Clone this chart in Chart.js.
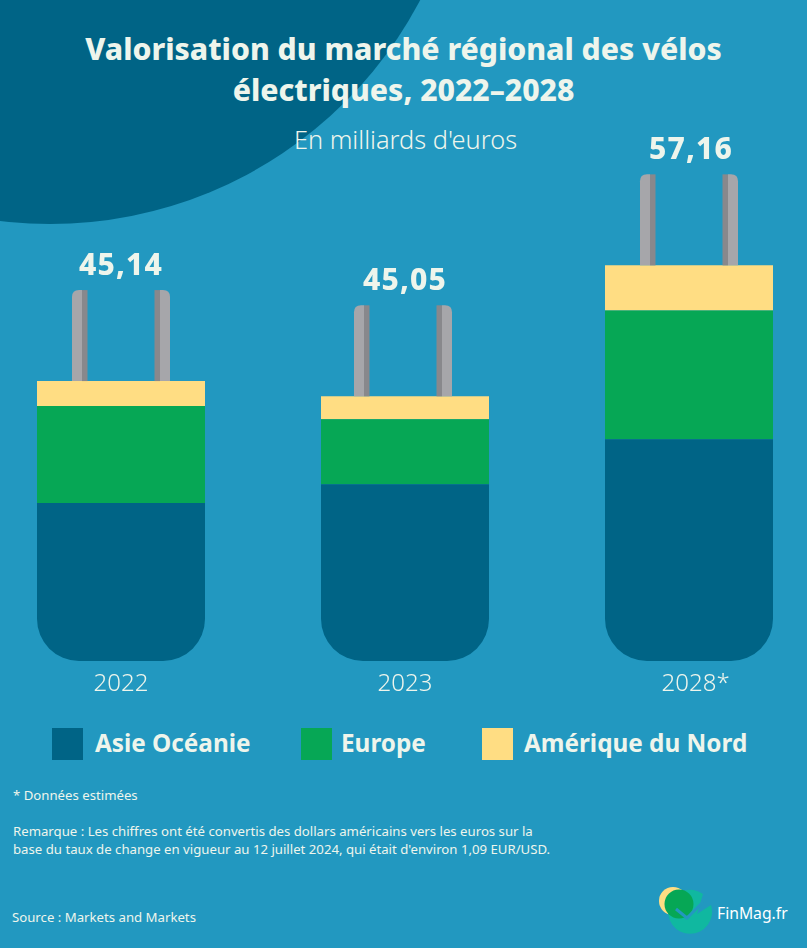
<!DOCTYPE html>
<html lang="fr">
<head>
<meta charset="utf-8">
<title>Vélos électriques</title>
<script src="https://cdn.jsdelivr.net/npm/chart.js@4"></script>
<style>
    html, body { margin: 0; padding: 0; }
    body { position: relative; width: 807px; height: 948px; overflow: hidden; background: #2298c0; color: #eef5ec; font-family: "Noto Sans", sans-serif; }
    .txt { position: absolute; white-space: nowrap; }
    #cercle { position: absolute; left: -368px; top: -612px; width: 836px; height: 836px; border-radius: 50%; background: #006486; }
    #canvas-wrap { position: absolute; left: -21px; top: 0; width: 852px; height: 700px; }
    #titre { left: 0; width: 807px; top: 28px; text-align: center; font-size: 30.1px; line-height: 41px; font-weight: 800; }
    #sous-titre { left: 0; width: 811px; top: 122px; text-align: center; font-size: 25.4px; line-height: 34px; font-weight: 300; }
    .swatch { position: absolute; top: 728px; width: 31px; height: 32px; }
    .leg { top: 726px; font-size: 24.3px; line-height: 34px; font-weight: 700; }
    .note { font-size: 13.2px; line-height: 18px; }
    #logo { position: absolute; left: 655px; top: 880px; }
    #logo-txt { left: 717px; top: 900px; font-size: 15.7px; line-height: 26px; color: #fff; }
</style>
</head>
<body>
<div id="cercle"></div>
<div class="txt" id="titre">Valorisation du marché régional des vélos<br>électriques, 2022–2028</div>
<div class="txt" id="sous-titre">En milliards d'euros</div>
<div id="canvas-wrap"><canvas id="graph" width="852" height="700"></canvas></div>
<div id="legende"></div>
<div class="txt note" style="left:13px;top:786px">* Données estimées</div>
<div class="txt note" style="left:13px;top:822px">Remarque : Les chiffres ont été convertis des dollars américains vers les euros sur la<br>base du taux de change en vigueur au 12 juillet 2024, qui était d'environ 1,09 EUR/USD.</div>
<div class="txt note" style="left:12px;top:908px">Source : Markets and Markets</div>
<svg id="logo" width="62" height="60" viewBox="655 880 62 60">
    <circle cx="673" cy="901" r="14" fill="#ffdd83"/>
    <path d="M703 894 A22 22 0 1 0 711 905 L697 914 Z" fill="#10b8a0"/>
    <circle cx="679" cy="904" r="14.5" fill="#06a755"/>
    <path d="M676 909 L687 918 L703 902" fill="none" stroke="#2298c0" stroke-width="3"/>
</svg>
<div class="txt" id="logo-txt">FinMag.fr</div>

<script>
// valeurs
const categories = ['2022', '2023', '2028*'];
const totaux = ['45,14', '45,05', '57,16'];
const asieOceanie = [22.8, 25.5, 32.0];
const europe = [14.0, 9.4, 18.6];
const ameriqueNord = [3.6, 3.3, 6.5];
const nomsSeries = ['Asie Océanie', 'Europe', 'Amérique du Nord'];
const couleursSeries = ['#006486', '#06a755', '#ffdd83'];

const yMax = 95.4;
const hauteurFiche = 91;

// réglages de mise en page, sans rapport avec les données
const legendeX = [[52, 95], [301, 341], [482, 524]];
const retraitFiche = [35, 33, 35];
const decalageTotal = [0, 0, 2];

const legende = document.getElementById('legende');
nomsSeries.forEach((nom, i) => {
    const carre = document.createElement('div');
    carre.className = 'swatch';
    carre.style.left = legendeX[i][0] + 'px';
    carre.style.background = couleursSeries[i];
    legende.appendChild(carre);
    const label = document.createElement('div');
    label.className = 'txt leg';
    label.style.left = legendeX[i][1] + 'px';
    label.innerText = nom;
    legende.appendChild(label);
});

// les deux fiches de la prise, au dessus de chaque barre
function dessinerFiche(ctx, x, yHaut, yBas, miroir) {
    const clair = 10, fonce = 5.5, rayon = 7;
    const sens = miroir ? -1 : 1;
    ctx.fillStyle = '#a6a6aa';
    ctx.beginPath();
    ctx.moveTo(x, yBas);
    ctx.lineTo(x, yHaut + rayon);
    ctx.quadraticCurveTo(x, yHaut, x + sens * rayon, yHaut);
    ctx.lineTo(x + sens * clair, yHaut);
    ctx.lineTo(x + sens * clair, yBas);
    ctx.closePath();
    ctx.fill();
    ctx.fillStyle = '#88888c';
    ctx.fillRect(miroir ? x - clair - fonce : x + clair, yHaut, fonce, yBas - yHaut);
}

const pluginPrise = {
    id: 'prise',
    afterDatasetsDraw(chart) {
        const ctx = chart.ctx;
        const haut = chart.getDatasetMeta(2).data;
        const bas = chart.scales.y.getPixelForValue(0);
        ctx.save();
        haut.forEach((barre, i) => {
            const gauche = barre.x - 84;
            dessinerFiche(ctx, gauche + retraitFiche[i], barre.y - hauteurFiche, barre.y, false);
            dessinerFiche(ctx, gauche + retraitFiche[i] + 98, barre.y - hauteurFiche, barre.y, true);

            ctx.fillStyle = '#eef5ec';
            ctx.textBaseline = 'middle';
            ctx.textAlign = 'center';
            ctx.font = '800 30px "Noto Sans"';
            ctx.letterSpacing = '1.2px';
            ctx.fillText(totaux[i], barre.x + decalageTotal[i], barre.y - hauteurFiche - 24);

            // l'astérisque déborde à droite de l'année, qui reste centrée
            ctx.letterSpacing = '0px';
            ctx.font = '300 24px "Noto Sans"';
            ctx.textAlign = 'left';
            const annee = categories[i].replace('*', '');
            ctx.fillText(categories[i], barre.x - ctx.measureText(annee).width / 2, bas + 23);
        });
        ctx.restore();
    }
};

new Chart(document.getElementById('graph').getContext('2d'), {
    type: 'bar',
    data: {
        labels: categories,
        datasets: [
            { label: nomsSeries[0], data: asieOceanie, backgroundColor: couleursSeries[0], borderRadius: { bottomLeft: 42, bottomRight: 42 } },
            { label: nomsSeries[1], data: europe, backgroundColor: couleursSeries[1] },
            { label: nomsSeries[2], data: ameriqueNord, backgroundColor: couleursSeries[2] }
        ]
    },
    options: {
        responsive: false,
        animation: false,
        layout: { padding: { bottom: 39 } },
        datasets: { bar: { barThickness: 168, borderSkipped: false, borderWidth: 0, inflateAmount: 0 } },
        plugins: { legend: { display: false }, tooltip: { enabled: false } },
        scales: {
            x: { stacked: true, display: false },
            y: { stacked: true, display: false, min: 0, max: yMax }
        }
    },
    plugins: [pluginPrise]
});
</script>
</body>
</html>
